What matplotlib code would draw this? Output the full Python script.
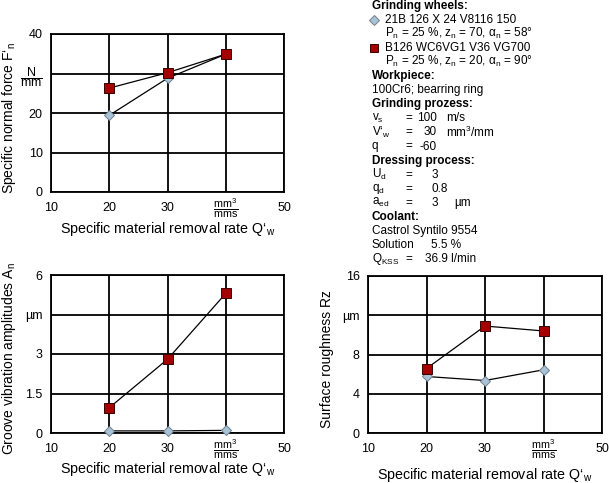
import matplotlib
matplotlib.use('Agg')
import matplotlib.pyplot as plt

plt.rcParams.update({
    'font.family': ['Liberation Sans', 'DejaVu Sans'],
    'font.size': 8.5,
    'mathtext.fontset': 'custom',
    'mathtext.rm': 'Liberation Sans',
    'mathtext.it': 'Liberation Sans:italic',
    'mathtext.bf': 'Liberation Sans:bold',
})

# --- data ---
q_w = [20, 30, 40]

force_v8116 = [19.4, 28.8, 34.9]
force_vg700 = [26.3, 30.2, 34.9]

groove_v8116 = [0.08, 0.08, 0.10]
groove_vg700 = [0.96, 2.8, 5.3]

rz_v8116 = [5.76, 5.35, 6.44]
rz_vg700 = [6.57, 10.9, 10.4]

x_ticks = [10, 20, 30, 40, 50]
x_ticklabels = ['10', '20', '30', r'$\dfrac{\mathrm{mm}^3}{\mathrm{mms}}$', '50']

C_DIA = '#A9C3D6'
C_DIA_E = '#6F8090'
C_SQ = '#A50000'
C_SQ_E = '#3A0000'

W, H = 609, 483
fig = plt.figure(figsize=(W / 100, H / 100), dpi=100)


def px_axes(l, t, r, b):
    return fig.add_axes([l / W, 1 - b / H, (r - l) / W, (b - t) / H])


def setup(ax, ymax, yticks, yticklabels, ylabel, ylab_x, xlab_y):
    ax.set_xlim(10, 50)
    ax.set_ylim(0, ymax)
    ax.set_xticks(x_ticks)
    ax.set_xticklabels(x_ticklabels)
    ax.set_yticks(yticks)
    ax.set_yticklabels(yticklabels)
    ax.tick_params(axis='y', length=0, pad=6, labelsize=9)
    ax.tick_params(axis='x', length=0, pad=11.5, labelsize=9)
    for lab in ax.get_xticklabels():
        lab.set_va('center')
        if '$' in lab.get_text():
            lab.set_fontsize(7.8)
    ax.grid(True, color='black', linewidth=1.3)
    for s in ax.spines.values():
        s.set_linewidth(1.3)
    ax.set_ylabel(ylabel, fontsize=10)
    ax.yaxis.set_label_coords(ylab_x, 0.47)
    ax.set_xlabel('Specific material removal rate Q\u2018$_\\mathrm{w}$', fontsize=10.3)
    ax.xaxis.set_label_coords(0.5, xlab_y)
    ax.set_axisbelow(True)


def series(ax, a, b):
    ax.plot(q_w, a, '-', color='black', lw=0.9, marker='D', ms=5.5,
            mfc=C_DIA, mec=C_DIA_E, mew=0.7, zorder=3, clip_on=False)
    ax.plot(q_w, b, '-', color='black', lw=0.9, marker='s', ms=7,
            mfc=C_SQ, mec=C_SQ_E, mew=0.7, zorder=4, clip_on=False)


# top-left: normal force
ax1 = px_axes(51, 34, 284, 192)
setup(ax1, 40, [0, 10, 20, 30, 40],
      ['0', '10', '20', r'$\dfrac{\mathrm{N}}{\mathrm{mm}}$', '40'],
      'Specific normal force F\u2018$_\\mathrm{n}$', -0.14, -0.18)
series(ax1, force_v8116, force_vg700)

# bottom-left: groove vibration amplitudes
ax2 = px_axes(51, 275, 284, 433)
setup(ax2, 6, [0, 1.5, 3, 4.5, 6], ['0', '1.5', '3', '\u00b5m', '6'],
      'Groove vibration amplitudes A$_\\mathrm{n}$', -0.14, -0.168)
series(ax2, groove_v8116, groove_vg700)

# bottom-right: surface roughness
ax3 = px_axes(368, 276, 602, 433)
setup(ax3, 16, [0, 4, 8, 12, 16], ['0', '4', '8', '\u00b5m', '16'],
      'Surface roughness Rz', -0.145, -0.21)
series(ax3, rz_v8116, rz_vg700)

# --- parameter panel ---
tx = fig.add_axes([0, 0, 1, 1])
tx.set_xlim(0, W)
tx.set_ylim(H, 0)
tx.axis('off')

dy = 14.1
y0 = 5.5
fs = 8.5


def line(i, parts):
    y = y0 + i * dy
    for x, s, kw in parts:
        tx.text(x, y, s, va='center', fontsize=fs, **kw)


b = {'fontweight': 'bold'}
n = {}
r = {'ha': 'right'}

line(0, [(372, 'Grinding wheels:', b)])
tx.plot([374], [y0 + dy], marker='D', ms=5.5, mfc=C_DIA, mec=C_DIA_E, mew=0.7)
line(1, [(385, '21B 126 X 24 V8116 150', n)])
line(2, [(385, 'P$_\\mathrm{n}$ = 25 %, z$_\\mathrm{n}$ = 70, \u03b1$_\\mathrm{n}$ = 58\u00b0', n)])
tx.plot([374], [y0 + 3 * dy], marker='s', ms=6, mfc=C_SQ, mec=C_SQ_E, mew=0.7)
line(3, [(385, 'B126 WC6VG1 V36 VG700', n)])
line(4, [(385, 'P$_\\mathrm{n}$ = 25 %, z$_\\mathrm{n}$ = 20, \u03b1$_\\mathrm{n}$ = 90\u00b0', n)])
line(5, [(372, 'Workpiece:', b)])
line(6, [(372, '100Cr6; bearring ring', n)])
line(7, [(372, 'Grinding prozess:', b)])
line(8, [(372, 'v$_\\mathrm{s}$', n), (405, '=', n), (437, '100', r), (446, 'm/s', n)])
line(9, [(372, 'V\u2018$_\\mathrm{w}$', n), (405, '=', n), (437, '30', r),
         (446, 'mm$^3$/mm', n)])
line(10, [(372, 'q', n), (405, '=', n), (437, '-60', r)])
line(11, [(372, 'Dressing process:', b)])
line(12, [(372, 'U$_\\mathrm{d}$', n), (405, '=', n), (432, '3', n)])
line(13, [(372, 'q$_\\mathrm{d}$', n), (405, '=', n), (432, '0.8', n)])
line(14, [(372, 'a$_\\mathrm{ed}$', n), (405, '=', n), (432, '3', n), (454, '\u00b5m', n)])
line(15, [(372, 'Coolant:', b)])
line(16, [(372, 'Castrol Syntilo 9554', n)])
line(17, [(372, 'Solution', n), (431, '5.5 %', n)])
line(18, [(372, 'Q$_\\mathrm{KSS}$', n), (405, '=', n), (425, '36.9 l/min', n)])

fig.savefig('out.png', dpi=100)
